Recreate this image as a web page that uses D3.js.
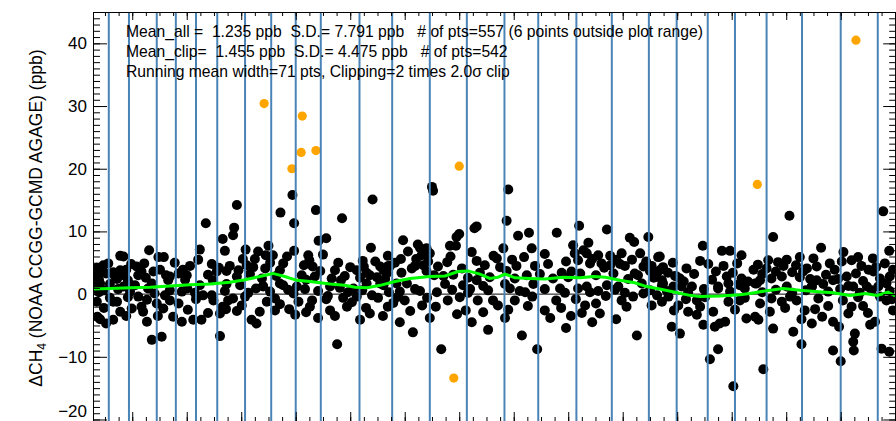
<!DOCTYPE html>
<html><head><meta charset="utf-8">
<script src="https://cdn.jsdelivr.net/npm/d3@7"></script>
<style>
html,body{margin:0;padding:0;background:#fff;}
svg{display:block;}
text{font-family:"Liberation Sans",Arial,Helvetica,sans-serif;fill:#000;}
</style></head><body>
<svg id="c" width="896" height="421"></svg>
<script>
// ---------------- data ----------------
const yTickVals = [-20, -10, 0, 10, 20, 30, 40];
const xDomain = [2003.28, 2018.0];
const yDomain = [-20.4, 45];
const statLines = [
  "Mean_all =  1.235 ppb  S.D.= 7.791 ppb   # of pts=557 (6 points outside plot range)",
  "Mean_clip=  1.455 ppb  S.D.= 4.475 ppb   # of pts=542",
  "Running mean width=71 pts, Clipping=2 times 2.0\u03c3 clip"
];
const yLabel = ["\u0394CH", "4", " (NOAA CCGG-GCMD AGAGE) (ppb)"];

const blueLineYears = [2003.57, 2003.94, 2004.45, 2004.80, 2005.17, 2005.56, 2006.07, 2006.55,
  2007.00, 2007.46, 2008.17, 2008.77, 2009.46, 2010.14, 2010.83, 2011.45, 2012.15, 2012.80,
  2013.48, 2013.99, 2014.56, 2015.06, 2015.64, 2016.29, 2017.00, 2017.68];

const runMeanYears = [2003.28, 2003.59, 2003.96, 2004.33, 2004.69, 2005.06, 2005.43, 2005.79, 2006.07,
  2006.34, 2006.58, 2006.80, 2007.02, 2007.26, 2007.63, 2007.90, 2008.09, 2008.31, 2008.55, 2008.82,
  2009.10, 2009.46, 2009.74, 2009.98, 2010.16, 2010.38, 2010.56, 2010.71, 2010.84, 2011.02, 2011.30,
  2011.57, 2011.91, 2012.22, 2012.46, 2012.68, 2012.95, 2013.22, 2013.44, 2013.68, 2013.96, 2014.23,
  2014.42, 2014.78, 2015.15, 2015.33, 2015.61, 2015.94, 2016.25, 2016.53, 2016.86, 2017.17, 2017.45,
  2017.67, 2017.87, 2018.00];
const runMeanVals = [0.8, 0.9, 1.0, 1.1, 1.3, 1.5, 1.6, 1.9, 2.3,
  2.8, 3.3, 2.8, 2.2, 2.0, 1.6, 1.4, 1.1, 1.0, 1.4, 2.0,
  2.5, 2.8, 2.9, 3.6, 3.7, 3.2, 2.5, 2.7, 3.2, 2.6, 2.5,
  2.4, 2.7, 2.6, 2.8, 2.7, 2.2, 1.8, 1.2, 0.8, 0.3, -0.2,
  -0.4, -0.3, -0.1, 0.1, 0.5, 0.9, 0.6, 0.4, 0.2, -0.2, 0.1,
  -0.2, 0.3, -0.3];

const outlierPts = [[2006.42, 30.4], [2006.93, 20.0], [2007.12, 28.4], [2007.10, 22.6], [2007.37, 22.9],
  [2010.00, 20.4], [2009.90, -13.4], [2015.47, 17.5], [2017.28, 40.5]];

const blackPts = [
  // 2003-2008 upper
  [2005.92,14.2],[2008.41,15.1],[2006.94,15.8],[2006.72,13.0],[2007.37,13.4],[2005.35,11.3],[2006.97,11.3],
  [2007.85,12.1],[2005.87,10.6],[2005.85,9.4],[2005.66,8.8],[2007.56,8.9],[2007.42,8.5],[2004.31,7.0],
  [2005.24,7.1],[2005.70,6.9],[2006.08,7.1],[2006.50,7.7],[2006.97,6.9],[2008.38,7.4],[2003.78,6.1],
  [2003.84,6.0],[2004.48,5.9],[2004.58,5.9],[2005.21,5.5],[2006.25,5.6],[2006.45,6.2],[2006.58,6.2],
  [2007.23,6.2],[2007.25,5.4],[2008.23,5.3],[2008.46,5.2],[2003.47,4.6],[2004.08,4.4],[2004.78,5.0],
  [2005.46,4.8],[2005.79,4.5],[2006.10,4.6],[2007.31,4.4],[2008.70,4.5],[2003.41,3.6],[2003.78,3.8],
  [2004.17,3.6],[2004.39,3.6],[2004.51,3.9],[2004.85,3.3],[2005.00,3.0],[2005.55,3.6],[2005.73,3.7],
  [2005.95,3.8],[2006.22,4.3],[2006.44,4.1],[2006.71,3.8],[2007.11,3.0],[2007.35,2.8],[2007.72,3.8],
  [2007.90,2.9],[2008.12,3.8],[2008.30,3.4],[2008.61,3.8],[2003.32,2.8],[2003.68,2.9],[2003.84,3.0],
  [2004.69,2.8],[2005.92,2.8],[2007.66,2.5],[2008.49,2.7],[2003.59,1.6],[2004.36,1.7],[2005.24,1.4],
  [2005.73,1.6],[2006.40,1.3],[2006.71,1.7],[2007.02,1.2],[2007.63,1.2],[2008.06,0.9],[2008.30,1.7],
  [2008.55,1.7],
  [2003.35,4.2],[2003.39,2.3],[2003.52,3.3],[2003.56,4.9],[2003.65,3.5],[2003.72,2.4],[2003.89,3.9],
  [2003.92,2.2],[2003.98,4.8],[2004.11,3.0],[2004.22,4.9],[2004.25,2.6],[2004.62,3.0],[2004.66,2.2],
  [2004.93,3.9],[2004.97,2.3],[2005.06,4.5],[2005.39,3.1],[2005.48,2.2],[2005.59,4.2],[2006.03,5.6],
  [2006.16,3.2],[2006.31,6.8],[2006.38,2.5],[2006.53,5.0],[2006.64,2.9],[2006.77,4.9],[2006.84,6.0],
  [2007.15,4.6],[2007.19,2.3],[2007.45,3.7],[2007.50,6.3],[2007.78,5.0],[2007.83,2.2],[2008.00,4.3],
  [2008.18,2.6],[2008.25,4.4],[2008.36,3.0],[2008.64,2.4],[2008.69,6.1],
  [2003.39,0.3],[2003.74,0.8],[2003.96,0.4],[2004.29,0.9],[2004.69,0.6],[2005.01,0.9],[2005.15,0.2],
  [2005.70,0.5],[2006.27,0.9],[2006.53,0.4],[2006.86,0.7],[2007.41,0.5],[2007.59,-0.3],[2007.96,0.3],
  [2008.22,0.6],[2008.40,-0.2],[2008.71,0.3],
  // 2003-2007 lower
  [2003.29,1.2],[2003.35,-1.2],[2003.36,-3.6],[2003.41,-4.0],[2003.52,-4.7],[2003.65,-4.1],[2003.65,-1.2],
  [2003.72,-1.2],[2003.84,1.2],[2003.89,-3.5],[2003.99,-2.3],[2004.05,1.4],[2004.11,-0.4],[2004.17,-2.0],
  [2004.20,-2.8],[2004.27,-4.4],[2004.36,-7.3],[2004.54,-6.8],[2004.41,0.1],[2004.45,-1.5],[2004.57,-2.3],
  [2004.60,-0.2],[2004.75,-3.6],[2004.85,-1.5],[2004.91,-4.4],[2004.91,0.4],[2005.12,-4.1],[2005.27,-4.1],
  [2005.30,-0.2],[2005.46,-0.2],[2005.49,-1.0],[2005.61,-3.1],[2005.61,-6.7],[2005.66,-2.0],[2005.72,-2.4],
  [2005.92,-2.7],[2005.85,-0.7],[2005.98,1.4],[2006.13,0.2],[2006.19,-4.1],[2006.28,-4.7],[2006.40,1.2],
  [2006.47,-1.2],[2006.62,-0.7],[2006.62,-2.6],[2006.77,1.4],[2006.88,-2.4],[2006.96,0.1],[2007.05,-1.2],
  [2003.47,0.6],[2003.41,1.7],
  [2003.48,-2.2],[2003.59,-0.6],[2003.78,-2.8],[2003.92,-0.5],[2004.27,-0.9],[2004.47,-3.5],[2004.69,-1.0],
  [2005.02,-2.5],[2005.17,-0.8],[2005.39,-3.0],[2005.76,-1.0],[2006.01,-1.8],[2006.07,-0.4],[2006.34,-2.8],
  [2006.71,-1.6],[2006.99,-3.3],
  // 2008-2014 upper
  [2009.50,17.1],[2009.52,16.5],[2010.90,16.7],[2010.87,11.7],[2010.32,10.8],[2010.28,10.5],[2010.00,9.6],
  [2009.95,9.1],[2008.97,8.6],[2011.28,9.8],[2011.08,9.3],[2011.79,9.8],[2012.20,10.9],[2012.71,10.3],
  [2013.13,9.0],[2013.21,8.3],[2013.47,9.1],[2009.28,7.4],[2009.40,7.3],[2009.83,7.7],[2009.94,7.7],
  [2010.81,7.3],[2011.33,7.3],[2012.09,7.8],[2012.37,8.2],[2012.28,7.0],[2008.93,5.6],[2009.31,6.2],
  [2009.46,6.5],[2009.84,6.0],[2010.32,5.3],[2010.63,6.1],[2010.69,5.7],[2011.57,6.4],[2012.12,6.5],
  [2012.34,6.5],[2012.55,6.2],[2012.77,6.1],[2012.98,6.5],[2013.32,6.5],[2013.65,5.9],[2008.55,4.4],
  [2008.73,4.5],[2009.19,4.5],[2009.34,4.6],[2011.05,4.5],[2011.39,4.5],[2012.40,4.9],[2012.61,4.9],
  [2012.77,4.6],[2012.95,4.8],[2013.04,4.5],[2013.38,4.4],[2013.53,4.5],[2008.67,3.3],[2008.94,3.4],
  [2009.40,3.7],[2009.71,2.9],[2010.38,3.4],[2010.87,3.7],[2011.88,3.4],[2012.06,3.6],[2012.22,3.3],
  [2012.83,3.3],[2013.22,3.3],[2013.50,3.7],[2013.62,3.2],[2013.99,2.8],[2009.04,1.7],[2009.74,1.6],
  [2010.32,2.2],[2010.44,1.3],[2010.84,1.6],[2011.36,1.6],[2012.34,1.2],[2012.71,1.4],[2012.92,1.2],
  [2013.35,1.7],[2013.72,1.4],[2013.93,1.2],[2008.61,1.4],[2008.85,1.7],[2010.07,1.4],
  [2008.82,5.0],[2009.06,6.8],[2009.13,4.1],[2009.21,5.6],[2009.24,7.9],[2009.43,5.2],[2009.54,3.0],
  [2009.61,4.4],[2009.78,5.1],[2009.89,3.1],[2010.05,4.1],[2010.16,2.6],[2010.23,6.7],[2010.47,4.6],
  [2010.56,2.7],[2010.75,4.3],[2010.97,5.5],[2011.02,2.5],[2011.19,5.9],[2011.24,3.0],[2011.48,3.2],
  [2011.63,4.8],[2011.72,2.5],[2011.96,5.2],[2012.00,2.7],[2012.18,5.4],[2012.44,5.6],[2012.51,3.0],
  [2012.66,4.2],[2012.88,5.5],[2013.10,2.4],[2013.17,5.5],[2013.28,3.0],[2013.43,5.2],[2013.57,2.6],
  [2013.74,4.3],
  [2008.91,0.4],[2009.19,0.8],[2009.59,0.3],[2009.87,0.7],[2010.16,0.2],[2010.53,0.6],[2010.93,0.9],
  [2011.21,0.3],[2011.57,0.8],[2011.94,0.2],[2012.18,0.9],[2012.55,0.5],[2012.86,0.7],[2013.04,0.2],
  [2013.50,0.6],[2013.63,-0.2],
  // 2013-2018 upper
  [2016.06,12.5],[2017.78,13.2],[2015.76,9.1],[2014.47,7.7],[2016.64,7.4],[2014.82,6.9],[2014.97,6.9],
  [2015.18,6.2],[2017.05,6.7],[2017.89,6.9],[2015.67,5.4],[2016.01,5.5],[2016.25,5.9],[2016.50,5.7],
  [2017.20,5.4],[2017.59,5.7],[2013.68,6.0],[2014.17,4.1],[2014.57,4.8],[2014.85,4.5],[2015.40,3.9],
  [2015.64,4.1],[2015.95,4.5],[2016.38,4.1],[2016.56,4.4],[2016.89,3.9],[2017.02,5.2],[2017.38,4.5],
  [2017.51,3.9],[2013.68,3.8],[2013.96,2.9],[2014.05,2.5],[2014.91,2.8],[2015.18,2.5],[2015.52,2.2],
  [2015.73,2.5],[2015.92,2.8],[2016.25,2.7],[2016.56,2.2],[2016.86,2.2],[2017.11,2.8],[2017.60,3.6],
  [2017.90,2.8],[2013.72,2.2],[2014.27,1.2],[2014.75,1.2],[2015.15,1.4],[2015.43,1.7],[2016.01,1.2],
  [2016.47,1.2],[2016.68,1.6],[2017.14,1.3],[2017.48,1.2],[2017.84,1.7],
  [2013.83,3.4],[2013.92,5.0],[2014.12,2.0],[2014.31,3.2],[2014.42,5.3],[2014.64,2.3],[2014.71,3.6],
  [2015.02,3.4],[2015.10,4.9],[2015.30,2.0],[2015.48,4.7],[2015.56,3.2],[2015.81,3.6],[2015.85,5.1],
  [2016.11,3.5],[2016.18,4.6],[2016.31,3.6],[2016.44,2.4],[2016.73,3.1],[2016.80,4.9],[2016.95,2.4],
  [2017.28,3.3],[2017.32,5.9],[2017.41,2.1],[2017.65,4.3],[2017.72,2.5],[2017.81,4.9],[2017.96,3.9],
  [2013.81,0.5],[2014.20,0.3],[2014.49,0.8],[2014.97,0.4],[2015.24,0.9],[2015.56,0.3],[2015.81,0.7],
  [2016.11,0.2],[2016.36,0.6],[2016.77,0.4],[2016.99,0.8],[2017.35,0.2],[2017.57,0.6],[2017.90,0.5],
  // 2012-2018 lower
  [2012.58,-3.1],[2012.69,-0.3],[2012.88,-4.0],[2012.98,-1.0],[2013.07,-2.0],[2013.19,-0.4],[2013.26,-6.6],
  [2013.38,0.1],[2013.53,-1.8],[2013.74,1.7],[2013.84,-0.4],[2013.90,-5.2],[2014.05,-6.3],[2014.02,-1.8],
  [2014.08,1.2],[2014.20,-2.8],[2014.36,-3.3],[2014.36,-1.0],[2014.48,-4.9],[2014.60,-10.4],[2014.66,-2.8],
  [2014.75,-8.8],[2014.69,-5.2],[2014.78,-4.7],[2014.88,-4.4],[2014.75,0.9],[2014.94,1.7],[2014.94,-1.2],
  [2015.03,-14.7],[2015.15,1.7],[2015.15,-1.0],[2015.27,-3.9],[2015.43,-3.6],[2015.49,-4.1],[2015.58,-12.0],
  [2015.46,1.7],[2015.73,-0.7],[2015.76,-5.5],[2015.92,-1.2],[2016.13,-6.0],[2016.19,-1.0],[2016.28,-4.0],
  [2016.28,-8.0],[2016.34,-2.6],[2016.47,-4.7],[2016.47,1.2],[2016.59,-0.7],[2016.77,-1.9],[2016.86,-4.4],
  [2016.86,-9.0],[2016.97,-5.2],[2017.00,-10.7],[2017.14,-3.1],[2017.20,-2.0],[2017.23,1.2],[2017.26,-6.3],
  [2017.23,-7.6],[2017.24,-9.0],[2017.41,-1.9],[2017.54,-4.9],[2017.63,-4.4],[2017.69,1.2],[2017.75,-8.7],
  [2017.89,-9.2],[2017.84,-1.0],[2017.96,-2.6],
  [2013.72,-1.2],[2013.94,-2.6],[2014.16,-0.8],[2014.42,-2.0],[2014.51,-0.5],[2015.06,-2.5],[2015.24,-0.6],
  [2015.52,-1.5],[2015.70,-2.8],[2015.98,-2.2],[2016.07,-0.4],[2016.53,-2.4],[2016.66,-3.6],[2017.04,-1.0],
  [2017.32,-0.5],[2017.50,-3.0],[2017.72,-0.4],[2017.94,-0.8],
  // 2007-2012 lower
  [2007.19,-2.9],[2007.30,-1.0],[2007.41,-3.8],[2007.63,-2.6],[2007.76,-8.0],[2007.87,-0.6],[2008.03,-1.3],
  [2008.18,-4.1],[2008.29,-2.2],[2008.51,-0.6],[2008.60,-3.5],[2008.79,-1.4],[2008.91,-4.5],[2009.00,-1.0],
  [2009.15,-6.1],[2009.32,-1.8],[2009.46,-3.8],[2009.67,-8.8],[2009.79,-1.0],[2010.12,-2.6],[2010.23,-4.5],
  [2010.34,-1.0],[2010.53,-5.7],[2010.71,-1.8],[2010.84,-3.8],[2011.02,-1.0],[2011.15,-6.6],[2011.43,-8.8],
  [2011.57,-2.6],[2011.78,-1.0],[2011.96,-5.4],[2012.05,-3.5],[2012.31,-1.8],[2012.44,-4.5],
  [2007.17,0.8],[2007.81,1.0],[2009.28,0.5],[2010.20,0.8],[2011.11,0.5],[2011.85,0.9],[2012.40,0.3],
  [2007.26,-2.0],[2007.56,-0.8],[2007.72,-3.5],[2007.94,-2.0],[2008.12,-0.4],[2008.36,-3.1],[2008.69,-2.0],
  [2008.86,-0.5],[2009.10,-2.7],[2009.41,-0.6],[2009.57,-2.0],[2009.96,-3.2],[2010.01,-0.5],[2010.44,-2.9],
  [2010.62,-1.0],[2010.90,-2.5],[2011.26,-1.9],[2011.34,-0.4],[2011.67,-3.8],[2011.87,-2.2],[2012.14,-0.8],
  [2012.25,-3.0],[2012.51,-1.5]
];

// ---------------- drawing ----------------
const svg = d3.select("#c");
const mL = 93, mR = 895.2, mT = 12, mB = 422;
const x = d3.scaleLinear().domain(xDomain).range([mL, mR]);
const y = d3.scaleLinear().domain(yDomain).range([mB, mT]);

const plot = svg.append("g");
plot.append("clipPath").attr("id", "clip").append("rect")
  .attr("x", mL).attr("y", mT).attr("width", mR - mL).attr("height", mB - mT);
const inner = plot.append("g").attr("clip-path", "url(#clip)");

inner.append("line")
  .attr("x1", mL).attr("x2", mR).attr("y1", y(0)).attr("y2", y(0))
  .attr("stroke", "#000").attr("stroke-width", 1);

inner.append("g").selectAll("circle").data(blackPts).join("circle")
  .attr("cx", d => x(d[0])).attr("cy", d => y(d[1])).attr("r", 5).attr("fill", "#000");

inner.append("g").selectAll("circle").data(outlierPts).join("circle")
  .attr("cx", d => x(d[0])).attr("cy", d => y(d[1])).attr("r", 4.6).attr("fill", "#FFA500");

inner.append("g").selectAll("line").data(blueLineYears).join("line")
  .attr("x1", d => x(d)).attr("x2", d => x(d)).attr("y1", mT).attr("y2", mB)
  .attr("stroke", "#4a84b6").attr("stroke-width", 2);

const rm = runMeanYears.map((t, i) => [t, runMeanVals[i]]);
inner.append("path").datum(rm)
  .attr("d", d3.line().x(d => x(d[0])).y(d => y(d[1])))
  .attr("fill", "none").attr("stroke", "#00ff00").attr("stroke-width", 3);

function styleAxis(g) {
  g.selectAll("path").attr("stroke", "#000").attr("stroke-width", 1);
  g.selectAll("line").attr("stroke", "#000").attr("stroke-width", 1);
}
const yMinor = d3.range(-20, 46, 1);
const xMajor = d3.range(2004, 2019, 1);
const xMinor = d3.range(2003.5, 2018.01, 0.25);

svg.append("g").attr("transform", `translate(${mL},0)`)
  .call(d3.axisLeft(y).tickValues(yMinor).tickSizeInner(-7).tickSizeOuter(0).tickFormat(""))
  .call(styleAxis);
svg.append("g").attr("transform", `translate(${mL},0)`)
  .call(d3.axisLeft(y).tickValues(yTickVals).tickSizeInner(-14).tickSizeOuter(0).tickPadding(6)
    .tickFormat(d => d < 0 ? "\u2212" + Math.abs(d) : String(d)))
  .call(styleAxis)
  .call(g => g.selectAll("text").attr("font-size", 17).attr("fill", "#000")
    .attr("font-family", "'Liberation Sans', Arial, sans-serif")
    .attr("dy", d => d === yTickVals[0] ? "-0.2em" : "0.32em"));
svg.append("g").attr("transform", `translate(${mR},0)`)
  .call(d3.axisRight(y).tickValues(yMinor).tickSizeInner(-6).tickSizeOuter(0).tickFormat(""))
  .call(styleAxis);
svg.append("g").attr("transform", `translate(${mR},0)`)
  .call(d3.axisRight(y).tickValues(yTickVals).tickSizeInner(-12).tickSizeOuter(0).tickFormat(""))
  .call(styleAxis);
svg.append("g").attr("transform", `translate(0,${mT})`)
  .call(d3.axisTop(x).tickValues(xMinor).tickSizeInner(-4).tickSizeOuter(0).tickFormat(""))
  .call(styleAxis);
svg.append("g").attr("transform", `translate(0,${mT})`)
  .call(d3.axisTop(x).tickValues(xMajor).tickSizeInner(-8).tickSizeOuter(0).tickFormat(""))
  .call(styleAxis);
svg.append("g").attr("transform", `translate(0,${mB})`)
  .call(d3.axisBottom(x).tickValues(xMinor).tickSizeInner(-5).tickSizeOuter(0).tickFormat(""))
  .call(styleAxis);
svg.append("g").attr("transform", `translate(0,${mB})`)
  .call(d3.axisBottom(x).tickValues(xMajor).tickSizeInner(-10).tickSizeOuter(0).tickFormat(""))
  .call(styleAxis);

svg.append("g").selectAll("text").data(statLines).join("text")
  .attr("x", 126).attr("y", (d, i) => 37 + i * 20)
  .attr("font-size", 15.7).style("white-space", "pre")
  .text(d => d);

const yl = svg.append("text")
  .attr("transform", "translate(42,218) rotate(-90)")
  .attr("text-anchor", "middle").attr("font-size", 17.5);
yl.append("tspan").text(yLabel[0]);
yl.append("tspan").attr("dy", 4).attr("font-size", 12).text(yLabel[1]);
yl.append("tspan").attr("dy", -4).text(yLabel[2]);
</script>
</body></html>
